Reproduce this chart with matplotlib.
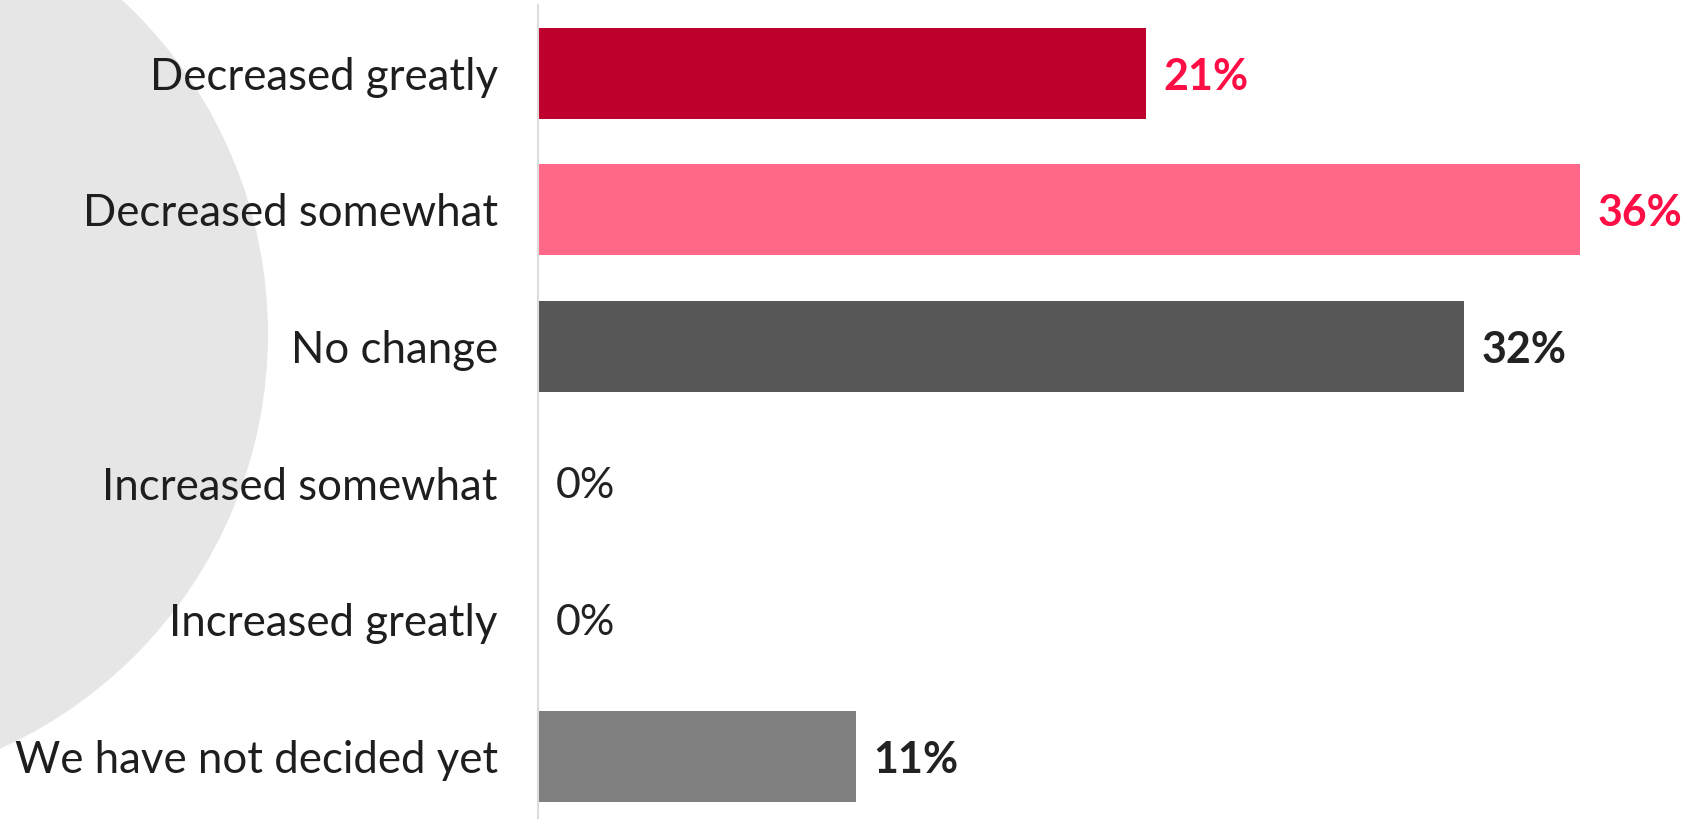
import matplotlib
matplotlib.use("Agg")
import matplotlib.pyplot as plt
from matplotlib.patches import Circle

# data
categories = ["Decreased greatly", "Decreased somewhat", "No change",
              "Increased somewhat", "Increased greatly", "We have not decided yet"]
shares = [21, 36, 32, 0, 0, 11]

# styles
bar_colors = ["#BE002D", "#FF6889", "#575757", "#575757", "#575757", "#808080"]
label_colors = ["#FF0D45", "#FF0D45", "#222222", "#222222", "#222222", "#222222"]

plt.rcParams["font.family"] = ["Lato", "DejaVu Sans"]

W, H, DPI = 1692, 819, 100
fig = plt.figure(figsize=(W / DPI, H / DPI), dpi=DPI)

# decorative grey circle behind everything (pixel coords)
bg = fig.add_axes([0, 0, 1, 1], zorder=0)
bg.set_xlim(0, W)
bg.set_ylim(H, 0)
bg.axis("off")
bg.add_patch(Circle((-187, 334), 455, color="#E6E6E6", lw=0))

ax_left = 538
ax = fig.add_axes([ax_left / W, 0, 1 - ax_left / W, 1 - 5 / H], zorder=1)
ax.patch.set_alpha(0)

y = list(range(len(categories)))
ax.barh(y, shares, height=0.667, color=bar_colors)

ax.set_ylim(5.46, -0.5)
ax.set_xlim(0, (W - ax_left) / 28.94)

for i, v in enumerate(shares):
    ax.annotate(f"{v}%", (v, i), xytext=(12.5, -2.5), textcoords="offset points",
                va="center", ha="left", fontsize=31,
                fontweight="bold" if v > 0 else "normal",
                color=label_colors[i])

ax.set_yticks(y)
ax.set_yticklabels(categories, fontsize=31.5, color="#1E1E1E")
ax.tick_params(axis="y", length=0, pad=29)
ax.set_xticks([])
for s in ["top", "right", "bottom"]:
    ax.spines[s].set_visible(False)
ax.spines["left"].set_color("#DCDCDC")
ax.spines["left"].set_linewidth(1.5)

fig.savefig("out.png", dpi=DPI)
